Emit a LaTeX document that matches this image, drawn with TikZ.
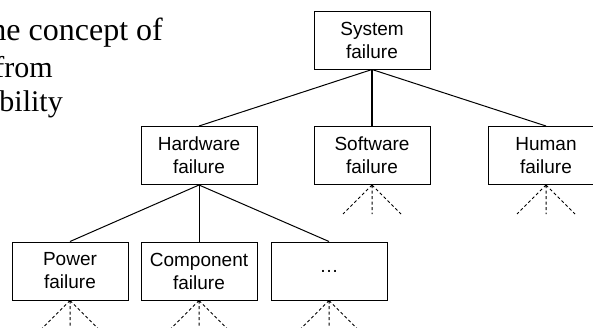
\documentclass[tikz,border=0pt]{standalone}
\usepackage{fontspec}
\setmainfont{Liberation Serif}
\newfontfamily\boxfont{Liberation Sans}
\tikzset{
  failbox/.style={draw, line width=1pt, minimum width=116pt, minimum height=58pt,
    inner sep=0pt, align=center, font=\boxfont\fontsize{19}{23}\selectfont},
  branch/.style={line width=1pt},
  fanline/.style={line width=1pt, dash pattern=on 3pt off 2.5pt},
  runtext/.style={anchor=base east, inner sep=0pt}
}
\def\pagebox{(0,0) rectangle (593,327)}

\begin{document}
\begin{tikzpicture}[x=1pt, y=-1pt]
\useasboundingbox \pagebox;
\clip \pagebox;
% bits of the running text next to the tree
\node[runtext, font=\fontsize{32}{36}\selectfont] (txta) at (163,40) {the concept of};
\node[runtext, font=\fontsize{30}{34}\selectfont] (txtb) at (53,77) {from};
\node[runtext, font=\fontsize{30}{34}\selectfont] (txtc) at (63,111) {bility};

\node[failbox] (sys) at (372,40) {System\\failure};
\node[failbox] (hw) at (199,155.5) {Hardware\\failure};
\node[failbox] (sw) at (372,155.5) {Software\\failure};
\node[failbox] (hu) at (546,155.5) {Human\\failure};
\node[failbox] (pw) at (70,271) {Power\\failure};
\node[failbox] (co) at (199,271) {Component\\failure};
\node[failbox] (dt) at (329,271) {\dots};

\draw[branch] (sys.south) -- (hw.north);
\draw[branch, line width=1.5pt] (sys.south) -- (sw.north);
\draw[branch] (sys.south) -- (hu.north);
\draw[branch] (hw.south) -- (pw.north);
\draw[branch] (hw.south) -- (co.north);
\draw[branch] (hw.south) -- (dt.north);

% unexpanded subtrees
\foreach \n in {sw,hu,pw,co,dt} {
  \coordinate (\n-l) at ([shift={(-29,29)}]\n.south);
  \coordinate (\n-m) at ([shift={(0,29)}]\n.south);
  \coordinate (\n-r) at ([shift={(29,29)}]\n.south);
  \draw[fanline] (\n.south) -- (\n-l) (\n.south) -- (\n-m) (\n.south) -- (\n-r);
}
\end{tikzpicture}
\end{document}
